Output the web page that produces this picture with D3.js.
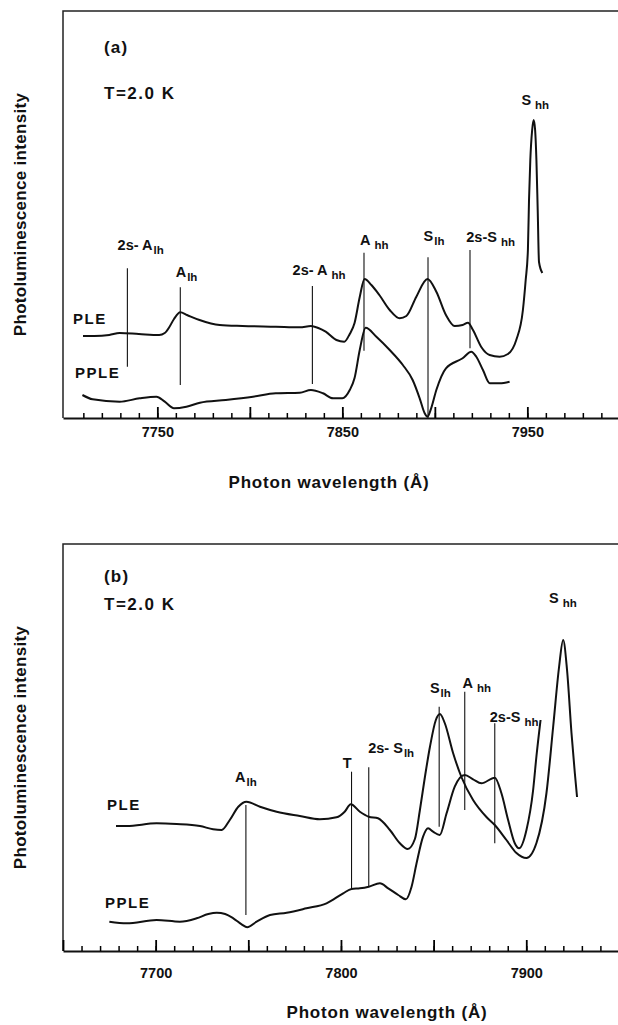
<!DOCTYPE html>
<html>
<head>
<meta charset="utf-8">
<script src="https://cdn.jsdelivr.net/npm/d3@7"></script>
<style>
  body { margin: 0; background: #fff; }
  svg text { font-family: "Liberation Sans", Arial, sans-serif; font-weight: bold; fill: #111; }
</style>
</head>
<body>
<svg id="chart" width="618" height="1025"></svg>
<script>
// spectra: [wavelength (Å), intensity (arb. units)]
const pleA = [[7709.8, 82], [7716, 82], [7724, 83], [7729.6, 85], [7740, 84], [7751, 83], [7754, 85], [7756.5, 91],
  [7759, 99], [7762.4, 105.7], [7766, 103], [7772.8, 98], [7783.7, 93], [7796, 92], [7814, 91.3], [7827, 90.7],
  [7833, 92], [7837, 90], [7841, 86.3], [7846.8, 78], [7851, 76.3], [7854, 84], [7856.6, 95], [7859.4, 121],
  [7862, 139], [7865.7, 133], [7870, 123], [7875.6, 108], [7881, 99.7], [7884.6, 102], [7890, 121.3], [7896, 139],
  [7900.8, 126.3], [7906, 103], [7910.7, 92], [7915, 93], [7917.9, 95.3], [7920.6, 88], [7925, 71.3], [7929.6, 63],
  [7935, 61.3], [7939.5, 64], [7944, 78], [7947.6, 108], [7949.1, 138], [7950.3, 168], [7950.9, 218], [7951.6, 258],
  [7952.6, 288], [7953.4, 298], [7954.2, 288], [7954.9, 258], [7955.6, 208], [7956.3, 156], [7958.1, 145]];

const ppleA = [[7709.5, 23], [7715, 18.7], [7729.6, 16.3], [7740.4, 19.7], [7749.5, 21.3], [7754, 16.3], [7759, 9.7],
  [7765.7, 11.3], [7773, 15.3], [7787, 18], [7801.7, 21.3], [7814, 24.7], [7827, 25.3], [7833, 28], [7839.5, 24.7],
  [7845, 19.7], [7850, 19.7], [7854, 28], [7856.6, 40], [7859.4, 68], [7862.6, 90.3], [7868.4, 81.3], [7875.6, 68],
  [7882.7, 53], [7888, 38], [7891.8, 19.7], [7894.5, 4.7], [7896, 1.3], [7898, 9.7], [7900.8, 28], [7906, 49.7],
  [7915, 59.7], [7919.7, 66.3], [7922.4, 61.3], [7926, 48], [7929.7, 34.7], [7935, 34.7], [7940.4, 36.3]];

const pleB = [[7678.6, 125], [7684.4, 125], [7700.5, 127.7], [7711.3, 127], [7723.9, 125], [7731, 121.7], [7735.6, 121],
  [7740, 131], [7744.6, 144.3], [7749, 149.3], [7756.3, 144.3], [7765.3, 139.3], [7777.8, 135], [7788.6, 131.7],
  [7797.6, 133.7], [7802, 139.3], [7805.3, 146.7], [7810.2, 139.3], [7815, 134.3], [7820, 132.7], [7826.4, 121],
  [7831.8, 107.7], [7836, 102], [7839.9, 112], [7842.6, 141], [7845.3, 174], [7848, 204], [7851.2, 231], [7853.4, 237],
  [7856, 228], [7860.5, 198], [7865, 174], [7871.3, 151], [7878.5, 134], [7883, 126], [7889.3, 111], [7894.7, 98],
  [7900.1, 93], [7905.5, 108], [7910.9, 158], [7914.5, 224], [7917.7, 284], [7919.9, 311], [7922, 281], [7924.4, 218],
  [7926.2, 178], [7927.4, 154]];

const ppleB = [[7675, 29.3], [7684.4, 27.7], [7700.5, 31], [7713.1, 29.3], [7722.1, 32.7], [7728.4, 37], [7733, 38.3],
  [7737.5, 37], [7741.9, 32.7], [7746.4, 26.7], [7749.4, 23.7], [7754.5, 29.3], [7761.7, 36], [7770.7, 38.3], [7781.4, 42.7],
  [7792.2, 47.7], [7801.2, 57.7], [7805.7, 62], [7810.2, 62.7], [7815, 64.3], [7821, 67.7], [7825.5, 62.7],
  [7830.9, 56], [7835, 51.7], [7838.1, 64.3], [7840.8, 87.7], [7844.3, 114.3], [7847, 122.7], [7849.7, 119.3],
  [7853.3, 116], [7857, 137.7], [7861.4, 164.3], [7866.8, 176], [7871.3, 171.7], [7875.8, 167.7], [7883, 173.3],
  [7886.6, 157.7], [7890.2, 131], [7893.8, 107.7], [7896.1, 102.7], [7900.1, 121], [7903.7, 161], [7905.5, 195],
  [7907.7, 231]];

// peak markers: line at wl from bot to top, label anchored at (lx, ly)
const marksA = [
  { main: '2s- A', sub: 'lh', wl: 7733.8, top: 149.7, bot: 51.3, lx: 7728.5, ly: 168 },
  { main: 'A', sub: 'lh', wl: 7762.4, top: 130.7, bot: 33, lx: 7759.9, ly: 141 },
  { main: '2s- A', sub: 'hh', wl: 7833.8, top: 132, bot: 34, lx: 7823.1, ly: 143 },
  { main: 'A', sub: 'hh', wl: 7861.7, top: 165.3, bot: 67.3, lx: 7859.6, ly: 173 },
  { main: 'S', sub: 'lh', wl: 7896.3, top: 160.7, bot: 0, lx: 7893.9, ly: 177 },
  { main: '2s-S', sub: 'hh', wl: 7919, top: 168, bot: 69.7, lx: 7917, ly: 176 },
  { main: 'S', sub: 'hh', wl: null, lx: 7946.8, ly: 313 }
];
const marksB = [
  { main: 'A', sub: 'lh', wl: 7748.7, top: 146, bot: 36, lx: 7742.8, ly: 169 },
  { main: 'T', sub: '', wl: 7805.7, top: 179.3, bot: 62.7, lx: 7801, ly: 183 },
  { main: '2s- S', sub: 'lh', wl: 7815, top: 183.7, bot: 64.3, lx: 7814.7, ly: 198 },
  { main: 'S', sub: 'lh', wl: 7853, top: 244.3, bot: 124.3, lx: 7848, ly: 258 },
  { main: 'A', sub: 'hh', wl: 7866.8, top: 259.3, bot: 141, lx: 7865.6, ly: 263 },
  { main: '2s-S', sub: 'hh', wl: 7883, top: 227.7, bot: 107.7, lx: 7880.3, ly: 229 },
  { main: 'S', sub: 'hh', wl: null, lx: 7912.3, ly: 348 }
];

const ticksA = { minor: d3.range(7710, 8000, 10), major: d3.range(7750, 8000, 50), labels: [7750, 7850, 7950] };
const ticksB = { minor: d3.range(7660, 7950, 10), major: d3.range(7650, 7950, 50), labels: [7700, 7800, 7900] };

const svg = d3.select('#chart');
const left = 63, right = 618, plotH = 407;

function drawPanel(p) {
  const x = d3.scaleLinear().domain(p.xDomain).range([left, right]);
  const y = d3.scaleLinear().domain([0, plotH]).range([p.bottom, p.bottom - plotH]);
  const g = svg.append('g');

  // open frame: top and left edges
  g.append('path')
    .attr('d', `M${right},${y(plotH)}H${left}V${p.bottom}`)
    .attr('fill', 'none').attr('stroke', '#222').attr('stroke-width', 1.5);

  const minor = g.append('g').attr('transform', `translate(0,${p.bottom})`)
    .call(d3.axisBottom(x).tickValues(p.ticks.minor).tickSize(-5).tickSizeOuter(0).tickFormat(''));
  minor.select('.domain').attr('stroke-width', 2.2).attr('stroke', '#111');
  minor.selectAll('.tick line').attr('stroke-width', 1.5);

  const major = g.append('g').attr('transform', `translate(0,${p.bottom})`)
    .call(d3.axisBottom(x).tickValues(p.ticks.major).tickSize(-11).tickFormat(''));
  major.select('.domain').remove();
  major.selectAll('.tick line').attr('stroke-width', 1.8);

  const lab = g.append('g').attr('transform', `translate(0,${p.bottom})`)
    .call(d3.axisBottom(x).tickValues(p.ticks.labels).tickSize(0).tickPadding(p.pad).tickFormat(d3.format('d')));
  lab.select('.domain').remove();
  lab.attr('font-family', null).attr('font-size', 14.5);

  // spectra
  const line = d3.line().x(d => x(d[0])).y(d => y(d[1])).curve(d3.curveMonotoneX);
  [p.ple, p.pple].forEach(s => {
    g.append('path').datum(s).attr('d', line)
      .attr('fill', 'none').attr('stroke', '#111').attr('stroke-width', 2).attr('stroke-linejoin', 'round');
  });

  // marker lines
  g.selectAll('.mark').data(p.marks.filter(m => m.wl !== null)).join('line')
    .attr('class', 'mark')
    .attr('x1', d => x(d.wl)).attr('x2', d => x(d.wl))
    .attr('y1', d => y(d.top)).attr('y2', d => y(d.bot))
    .attr('stroke', '#111').attr('stroke-width', 1.1);

  p.marks.forEach(m => {
    const t = g.append('text').attr('x', x(m.lx)).attr('y', y(m.ly)).attr('font-size', 14.5);
    t.append('tspan').text(m.main);
    if (m.sub) {
      t.append('tspan').attr('font-size', 11.5).attr('dy', 4)
        .attr('dx', m.sub === 'hh' ? 4 : 1).text(m.sub);
    }
  });

  // panel texts
  g.append('text').attr('x', 104).attr('y', y(plotH) + p.tagY).attr('font-size', 17)
    .attr('letter-spacing', 1.2).text(p.tag);
  g.append('text').attr('x', 104).attr('y', y(plotH) + p.tempY).attr('font-size', 17)
    .attr('letter-spacing', 1.5).text('T=2.0 K');
  g.append('text').attr('x', p.pleX).attr('y', y(p.pleY)).attr('font-size', 15)
    .attr('letter-spacing', 1.5).text('PLE');
  g.append('text').attr('x', p.ppleX).attr('y', y(p.ppleY)).attr('font-size', 15)
    .attr('letter-spacing', 1.5).text('PPLE');

  g.append('text').attr('x', p.titleX).attr('y', p.titleY).attr('font-size', 17)
    .attr('letter-spacing', 0.8).attr('text-anchor', 'middle').text('Photon wavelength (Å)');
  g.append('text').attr('transform', `translate(20,${p.bottom - plotH / 2}) rotate(-90)`)
    .attr('font-size', 17).attr('letter-spacing', 0.3).attr('text-anchor', 'middle')
    .attr('dominant-baseline', 'central').text('Photoluminescence intensity');
}

drawPanel({ xDomain: [7699, 7999], bottom: 418, ticks: ticksA, pad: 9, ple: pleA, pple: ppleA, marks: marksA,
  tag: '(a)', tagY: 42, tempY: 88, pleX: 73, pleY: 94, ppleX: 75, ppleY: 40, titleX: 329, titleY: 488 });
drawPanel({ xDomain: [7650, 7949.5], bottom: 951, ticks: ticksB, pad: 17, ple: pleB, pple: ppleB, marks: marksB,
  tag: '(b)', tagY: 38, tempY: 66, pleX: 107, pleY: 141, ppleX: 105, ppleY: 43, titleX: 387, titleY: 1018 });
</script>
</body>
</html>
